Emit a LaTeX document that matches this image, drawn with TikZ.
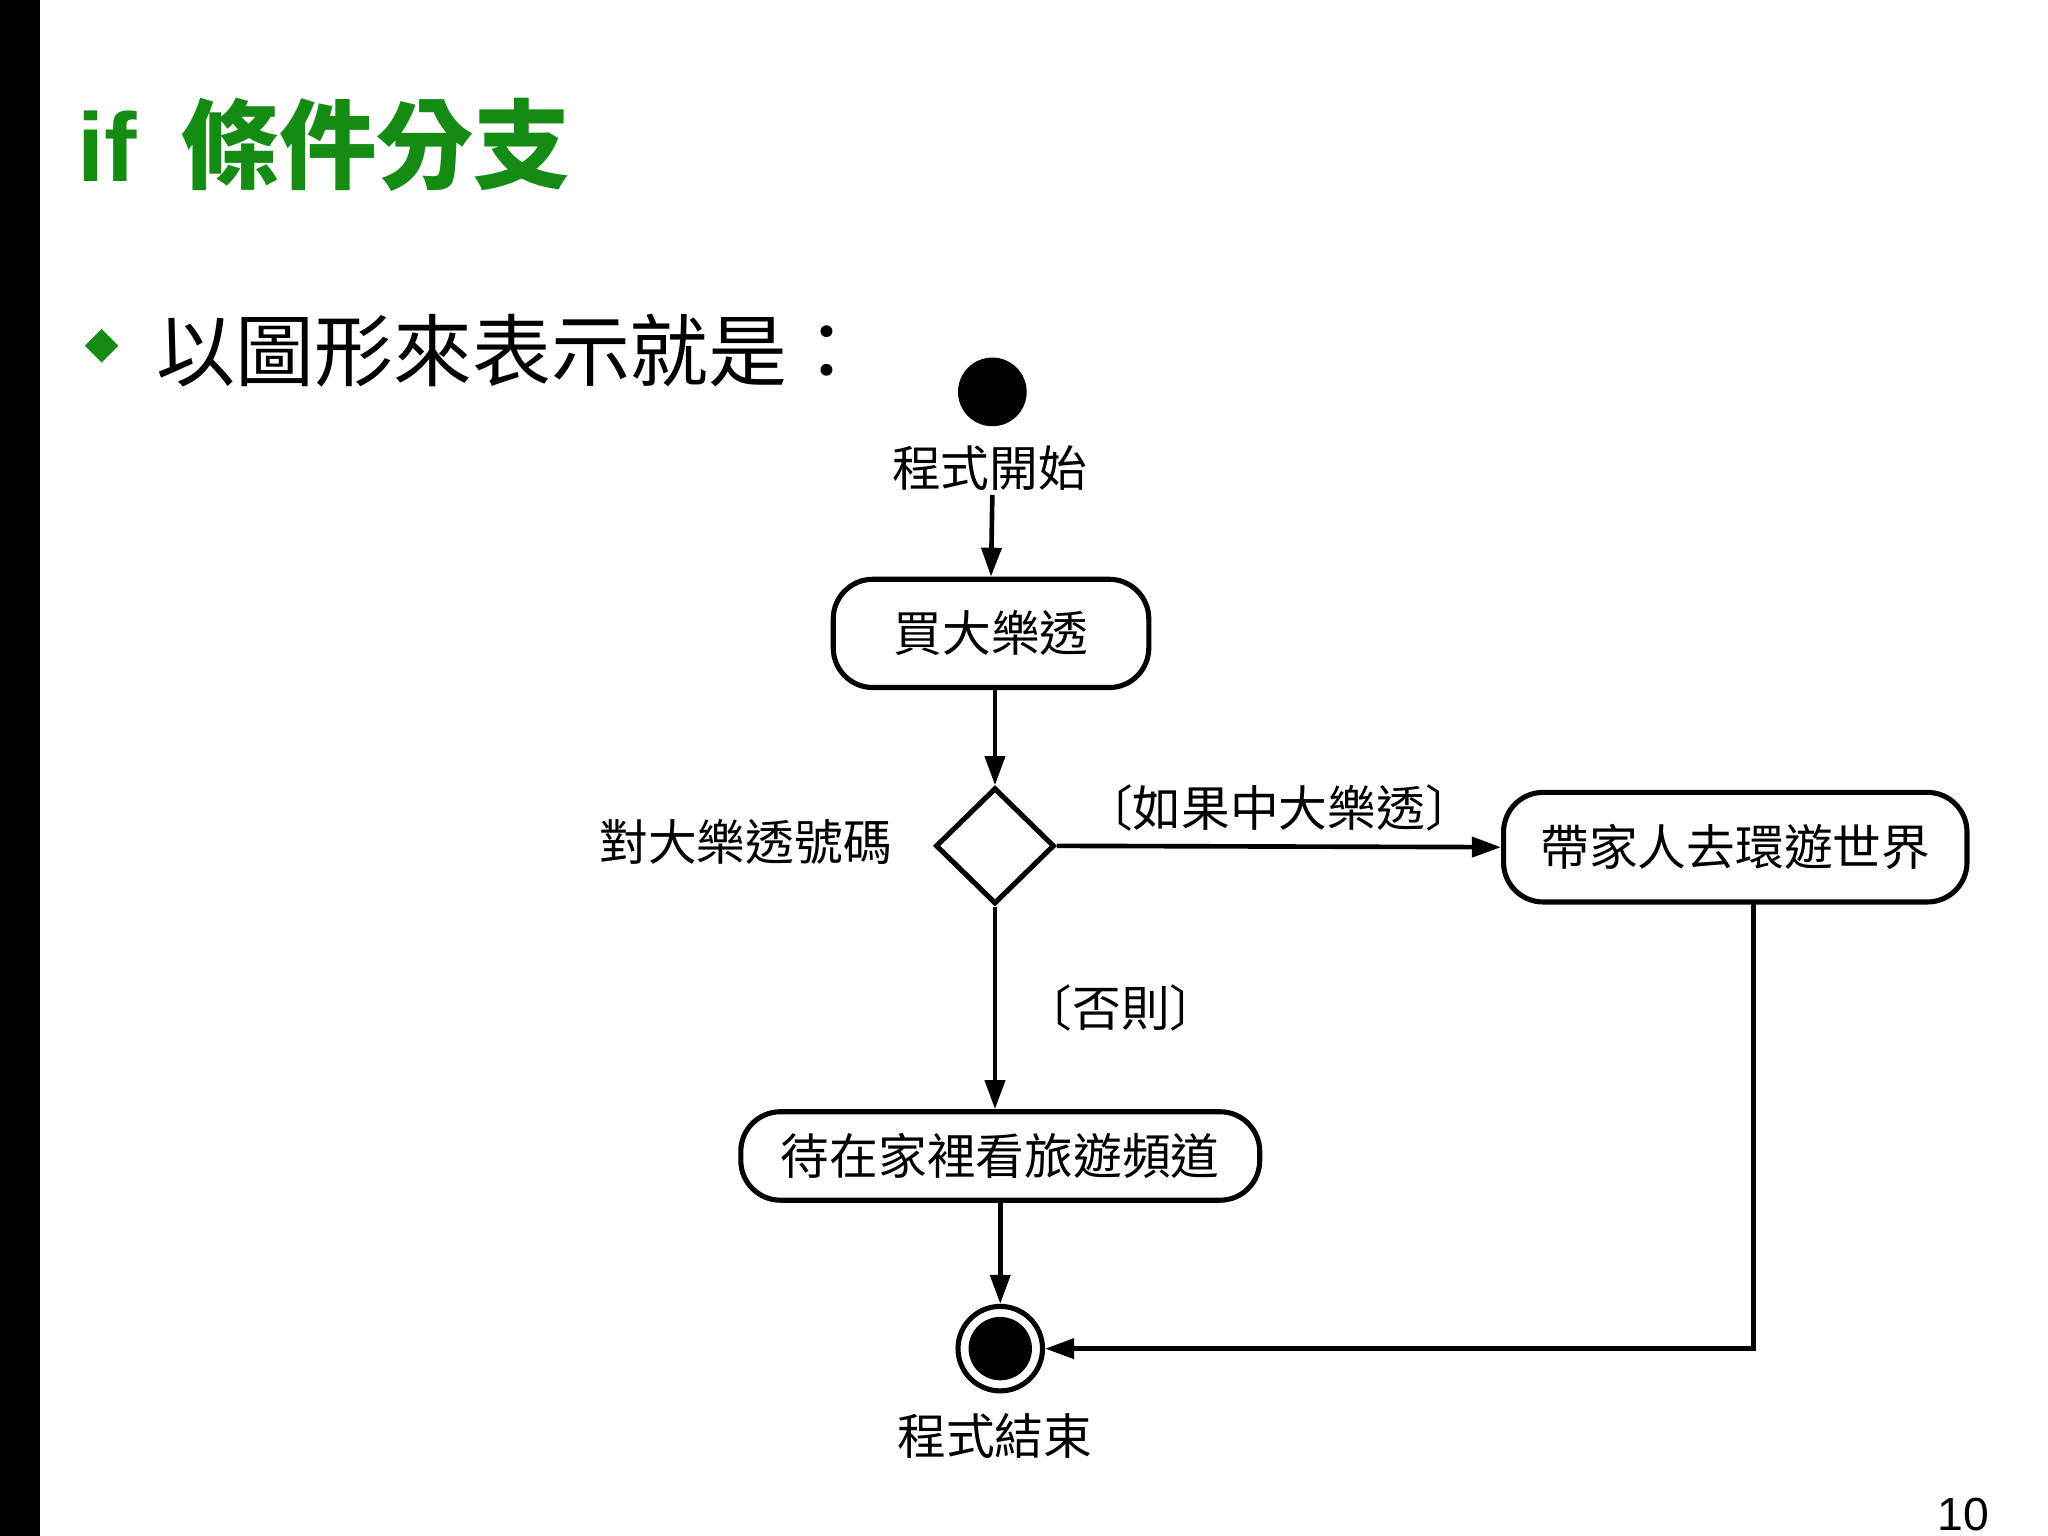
\documentclass[tikz,border=0pt]{standalone}
\usepackage{fontspec}
\setmainfont{Noto Sans CJK TC}
\newfontfamily\lat{Liberation Sans}
\usetikzlibrary{shapes.geometric,arrows.meta}
\definecolor{tgreen}{RGB}{20,140,20}
\tikzset{
 act/.style={draw,line width=1.1pt,rounded corners=0.3cm,inner sep=0pt,font=\fontsize{10.5}{13}\selectfont},
 lbl/.style={font=\fontsize{10.5}{13}\selectfont,inner sep=0pt},
 arr/.style={line width=1pt,-{Triangle[length=0.22cm,width=0.15cm]}},
}
\begin{document}
\begin{tikzpicture}[x=0.01cm,y=-0.01cm]
\useasboundingbox (0,0) rectangle (1552,1164);
\fill[white] (0,0) rectangle (1552,1164);
\fill[black] (0,0) rectangle (30,1164);
\node[anchor=west,text=tgreen,font=\fontsize{21}{24}\selectfont\bfseries,inner sep=0pt] (title) at (58,110) {{\lat if}\ \ 條件分支};
\node[fill=tgreen,diamond,minimum size=0.26cm,inner sep=0pt] (bul) at (77,262) {};
\node[anchor=west,font=\fontsize{17}{20}\selectfont,inner sep=0pt] (sub) at (118,266) {以圖形來表示就是：};
\node[circle,fill=black,minimum size=0.52cm,inner sep=0pt] (start) at (752,297) {};
\node[lbl] (startl) at (750,355) {程式開始};
\node[act,minimum width=2.39cm,minimum height=0.82cm] (buy) at (751,480) {買大樂透};
\node[draw,line width=1.1pt,diamond,minimum width=0.9cm,minimum height=0.88cm,inner sep=0pt] (dec) at (754,641) {};
\node[lbl] (decl) at (565,638) {對大樂透號碼};
\node[act,minimum width=3.51cm,minimum height=0.83cm] (trip) at (1315,642) {帶家人去環遊世界};
\node[act,minimum width=3.93cm,minimum height=0.67cm] (home) at (758,876) {待在家裡看旅遊頻道};
\node[circle,draw,line width=1.1pt,minimum size=0.64cm,inner sep=0pt] (end) at (758,1022) {};
\fill (end.center) circle (0.24cm);
\node[lbl] (endl) at (754,1088) {程式結束};
\node[font=\lat\fontsize{10}{12}\selectfont,inner sep=0pt] (pg) at (1488,1148) {10};
\coordinate (c1) at (752,375);
\draw[arr] (c1) -- (buy.north);
\draw[arr] (buy.south -| dec.north) -- (dec.north);
\draw[arr] (dec.east) -- node[above=0.1cm,lbl]{〔如果中大樂透〕} (trip.west);
\draw[arr] (dec.south) -- node[right=0.2cm,lbl]{〔否則〕} (dec.south |- home.north);
\draw[arr] (home.south -| end.north) -- (end.north);
\coordinate (tc) at (1329,684);
\draw[arr] (tc) -- (tc |- end.east) -- (end.east);
\end{tikzpicture}
\end{document}
